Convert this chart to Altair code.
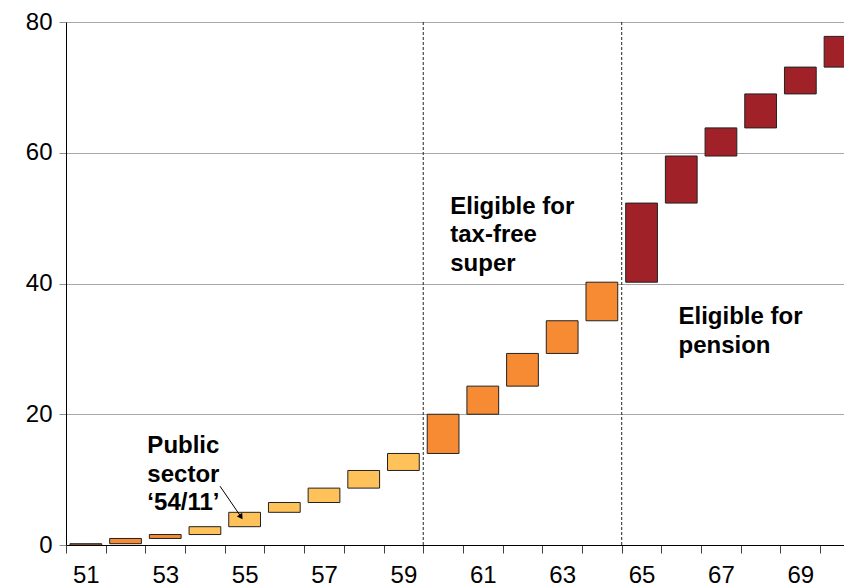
import altair as alt
import pandas as pd

# --- data ---
ages = list(range(51, 71))
starts = [0.0, 0.2, 1.0, 1.6, 2.8, 5.0, 6.5, 8.7, 11.4, 14.0,
          20.0, 24.3, 29.3, 34.3, 40.2, 52.3, 59.5, 63.8, 69.0, 73.1]
ends = [0.2, 1.0, 1.6, 2.8, 5.0, 6.5, 8.7, 11.4, 14.0, 20.0,
        24.3, 29.3, 34.3, 40.2, 52.3, 59.5, 63.8, 69.0, 73.1, 77.8]
groups = ["early", "early", "early", "public", "public", "public", "public", "public", "public", "super",
          "super", "super", "super", "super", "pension", "pension", "pension", "pension", "pension", "pension"]
group_names = ["early", "public", "super", "pension"]
group_colors = ["#F68B33", "#FFC15A", "#F68B33", "#A02128"]

phase_boundaries = [59.5, 64.5]
y_ticks = [0, 20, 40, 60, 80]
x_tick_positions = [a - 0.5 for a in ages]

ann_text = ["Public", "sector", "\u201854/11\u2019",
            "Eligible for", "tax-free", "super",
            "Eligible for", "pension"]
ann_x = [52.55, 52.55, 52.55, 60.18, 60.18, 60.18, 65.93, 65.93]
ann_y = [14.1, 9.7, 5.3, 50.7, 46.3, 41.9, 33.8, 29.4]

arrow_from = (54.38, 9.0)
arrow_to = (54.91, 4.3)

bars_df = pd.DataFrame({"age": ages, "start": starts, "end": ends, "group": groups})
rules_df = pd.DataFrame({"x": phase_boundaries})
ann_df = pd.DataFrame({"text": ann_text, "x": ann_x, "y": ann_y})
arrow_df = pd.DataFrame({"x": [arrow_from[0]], "y": [arrow_from[1]],
                         "x2": [arrow_to[0]], "y2": [arrow_to[1]]})

FONT = "Liberation Sans"

x_scale = alt.Scale(domain=[50.5, 70.1], nice=False, zero=False)
y_scale = alt.Scale(domain=[0, 80], nice=False)

x_axis = alt.Axis(
    values=x_tick_positions,
    labelExpr="(datum.value + 0.5) % 2 == 1 ? format(datum.value + 0.5, 'd') : ''",
    labelOffset=19.85, labelOverlap=False, labelFlush=False,
    tickSize=8, tickColor="#404040", domainColor="#000000",
    labelFontSize=24, labelFont=FONT, labelColor="#000000", labelPadding=10,
    grid=False, title=None,
)
y_axis = alt.Axis(
    values=y_ticks, tickSize=7, tickColor="#909090", domainColor="#000000",
    labelFontSize=24, labelFont=FONT, labelColor="#000000", labelPadding=7,
    grid=True, gridColor="#A8A8A8", gridWidth=1, title=None,
)

bars = alt.Chart(bars_df).transform_calculate(
    x0="datum.age - 0.4", x1="datum.age + 0.4"
).mark_bar(stroke="#222222", strokeWidth=1, clip=True).encode(
    x=alt.X("x0:Q", scale=x_scale, axis=x_axis),
    x2="x1:Q",
    y=alt.Y("start:Q", scale=y_scale, axis=y_axis),
    y2="end:Q",
    color=alt.Color("group:N", scale=alt.Scale(domain=group_names, range=group_colors), legend=None),
)

rules = alt.Chart(rules_df).mark_rule(color="#222222", strokeDash=[3, 2], strokeWidth=1).encode(
    x=alt.X("x:Q", scale=x_scale)
)

texts = alt.Chart(ann_df).mark_text(
    align="left", baseline="alphabetic", fontSize=24, fontWeight="bold", font=FONT, color="#000000"
).encode(
    x=alt.X("x:Q", scale=x_scale), y=alt.Y("y:Q", scale=y_scale), text="text:N"
)

arrow_line = alt.Chart(arrow_df).mark_rule(color="#000000", strokeWidth=1).encode(
    x=alt.X("x:Q", scale=x_scale), y=alt.Y("y:Q", scale=y_scale), x2="x2:Q", y2="y2:Q"
)
arrow_head = alt.Chart(arrow_df).mark_point(
    shape="triangle-up", filled=True, color="#000000", size=40, angle=146, opacity=1
).encode(
    x=alt.X("x2:Q", scale=x_scale), y=alt.Y("y2:Q", scale=y_scale)
)

chart = alt.layer(rules, bars, texts, arrow_line, arrow_head).properties(
    width=778, height=523,
    autosize=alt.AutoSizeParams(type="none"),
    padding={"left": 58, "top": 14, "right": 0, "bottom": 46},
    background="#FFFFFF",
).configure_view(stroke=None)

chart.save("out.html", embed_options={"renderer": "svg", "actions": False})
